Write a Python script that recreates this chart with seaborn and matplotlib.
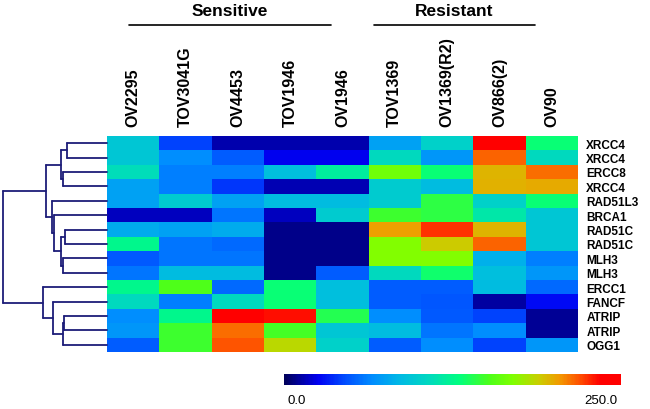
import numpy as np
import pandas as pd
import matplotlib
matplotlib.use("Agg")
import matplotlib.pyplot as plt
from matplotlib.colors import LinearSegmentedColormap
import seaborn as sns

# Data
samples = ["OV2295", "TOV3041G", "OV4453", "TOV1946", "OV1946",
           "TOV1369", "OV1369(R2)", "OV866(2)", "OV90"]
genes = ["XRCC4", "XRCC4", "ERCC8", "XRCC4", "RAD51L3", "BRCA1", "RAD51C",
         "RAD51C", "MLH3", "MLH3", "ERCC1", "FANCF", "ATRIP", "ATRIP", "OGG1"]
values = [
    [95, 42, 14, 14, 14, 75, 102, 245, 132],
    [95, 66, 50, 25, 25, 108, 70, 215, 108],
    [110, 61, 61, 90, 120, 165, 132, 197, 213],
    [75, 61, 40, 15, 15, 98, 88, 198, 200],
    [75, 98, 75, 88, 88, 98, 143, 102, 132],
    [17, 17, 58, 17, 98, 148, 143, 116, 95],
    [80, 75, 80, 8, 8, 203, 225, 197, 95],
    [125, 58, 54, 8, 8, 170, 190, 215, 95],
    [49, 58, 58, 8, 8, 170, 170, 82, 61],
    [58, 88, 88, 8, 50, 108, 134, 90, 70],
    [125, 153, 54, 132, 90, 50, 50, 88, 54],
    [108, 61, 108, 132, 90, 50, 48, 12, 28],
    [66, 125, 245, 232, 140, 66, 49, 42, 10],
    [70, 148, 213, 150, 95, 88, 58, 66, 10],
    [50, 148, 218, 185, 102, 50, 66, 42, 70],
]
groups = ["Sensitive", "Resistant"]

# row dendrogram: (left, right, height); ids >= 15 refer to earlier merges
merges = [
    (0, 1, 40),      # 15
    (2, 3, 44),      # 16
    (15, 16, 46),    # 17
    (6, 7, 42),      # 18
    (8, 9, 44),      # 19
    (18, 19, 46),    # 20
    (5, 20, 53),     # 21
    (4, 21, 55),     # 22
    (17, 22, 61),    # 23
    (12, 13, 43),    # 24
    (24, 14, 44),    # 25
    (11, 25, 54),    # 26
    (10, 26, 64),    # 27
    (23, 27, 104),   # 28
]

df = pd.DataFrame(values, index=genes, columns=samples)

sns.set_style("white")
plt.rcParams["font.family"] = ["Liberation Sans", "DejaVu Sans"]
plt.rcParams["font.weight"] = "bold"
plt.rcParams["text.color"] = "black"
plt.rcParams["xtick.color"] = "black"
plt.rcParams["ytick.color"] = "black"

# jet-like scale as in the reference colour bar
cmap = LinearSegmentedColormap.from_list("refjet", [
    (0.00, (0.0, 0.0, 0.35)),
    (0.10, (0.0, 0.0, 0.95)),
    (0.18, (0.0, 0.3, 1.0)),
    (0.26, (0.0, 0.55, 1.0)),
    (0.34, (0.0, 0.72, 0.9)),
    (0.43, (0.0, 0.85, 0.75)),
    (0.52, (0.0, 1.0, 0.5)),
    (0.61, (0.3, 1.0, 0.1)),
    (0.68, (0.5, 1.0, 0.0)),
    (0.76, (0.8, 0.8, 0.0)),
    (0.82, (0.95, 0.6, 0.0)),
    (0.88, (1.0, 0.3, 0.0)),
    (0.94, (1.0, 0.0, 0.0)),
    (1.00, (1.0, 0.0, 0.0)),
])

fig = plt.figure(figsize=(6.5, 4.1), dpi=100)
ax = fig.add_axes([107 / 650, 1 - 353 / 410, 471 / 650, 216 / 410])
dax = fig.add_axes([3 / 650, 1 - 353 / 410, 104 / 650, 216 / 410])
cax = fig.add_axes([284 / 650, 1 - 386 / 410, 337 / 650, 11 / 410])

sns.heatmap(df, ax=ax, cmap=cmap, vmin=0, vmax=250, cbar_ax=cax,
            cbar_kws={"orientation": "horizontal"},
            xticklabels=samples, yticklabels=genes)
ax.xaxis.tick_top()
ax.yaxis.tick_right()
ax.set_xticklabels(samples, rotation=90, fontsize=11.5, fontweight="bold")
ax.set_yticklabels(genes, rotation=0, fontsize=8.5, fontweight="bold")
ax.tick_params(axis="x", length=0, pad=7)
ax.tick_params(axis="y", length=0, pad=6)
ax.set_xlabel("")
ax.set_ylabel("")

# colorbar
cax.set_xticks([])
cax.set_yticks([])
for s in cax.spines.values():
    s.set_visible(False)
cax.text(0.01, -0.85, "0.0", transform=cax.transAxes, ha="left", va="top",
         fontsize=9.5, fontweight="normal")
cax.text(0.99, -0.85, "250.0", transform=cax.transAxes, ha="right", va="top",
         fontsize=9.5, fontweight="normal")

# dendrogram
n = len(genes)
pos = {i: i + 0.5 for i in range(n)}
hgt = {i: 0 for i in range(n)}
for k, (a, b, h) in enumerate(merges):
    node = n + k
    for c in (a, b):
        dax.plot([hgt[c], h], [pos[c], pos[c]], color="#1c1c78", lw=1.3, clip_on=False)
    dax.plot([h, h], [pos[a], pos[b]], color="#1c1c78", lw=1.3, clip_on=False)
    pos[node] = (pos[a] + pos[b]) / 2
    hgt[node] = h
dax.set_xlim(104, 0)
dax.set_ylim(n, 0)
dax.axis("off")

# group headers
for name, x0, x1 in [(groups[0], 129, 331), (groups[1], 374, 535)]:
    fig.text((x0 + x1) / 2 / 650, 1 - 11 / 410, name, ha="center", va="center",
             fontsize=12.5, fontweight="bold")
    fig.add_artist(plt.Line2D([x0 / 650, x1 / 650], [1 - 26 / 410, 1 - 26 / 410],
                              color="black", lw=1.2))

fig.savefig("out.png", dpi=100)
